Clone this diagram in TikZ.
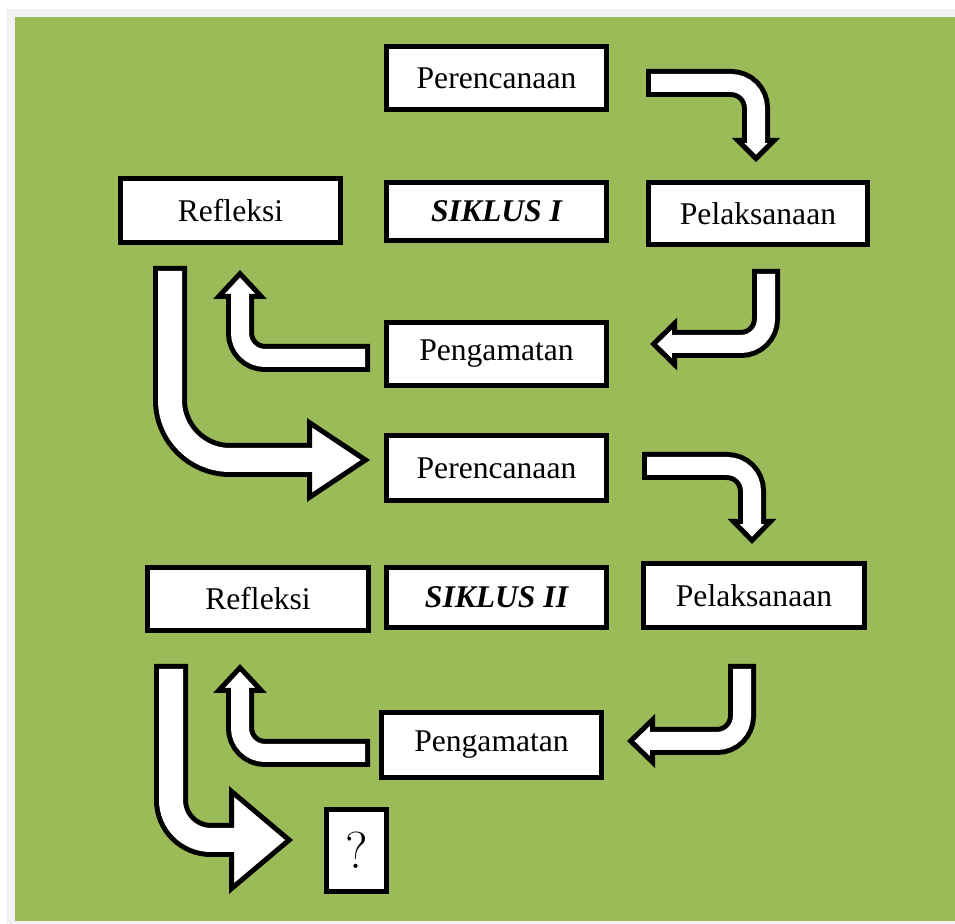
\documentclass[tikz,border=0pt]{standalone}
\usepackage{fontspec}
\newfontfamily\timesfont{Liberation Serif}
\definecolor{hijau}{HTML}{9BBB59}
\definecolor{abumuda}{HTML}{F2F2F2}
\tikzset{pics/kepala/.style 2 args={code={%
    \draw[black, line width=2.5pt, line join=miter, fill=white] (0,-#1) -- (#2,0) -- (0,#1) -- cycle;}}}

\begin{document}
\begin{tikzpicture}[x=0.5pt, y=-0.5pt]
    \tikzstyle{kotak}=[rectangle, draw, line width=2.5pt, fill=white, inner sep=0pt,
                       minimum width=110pt, minimum height=31.5pt,
                       font=\timesfont\fontsize{15.8}{19}\selectfont]
    \tikzstyle{batang}=[draw=white, line width=9pt, rounded corners=12.5pt,
                        preaction={draw=black, line width=14pt, shorten <=-2.5pt, shorten >=2pt}]
    \tikzstyle{batangbesar}=[draw=white, line width=12pt, rounded corners=30pt,
                             preaction={draw=black, line width=17pt, shorten <=-2.5pt, shorten >=2pt}]

    \useasboundingbox (0,0) rectangle (955,924);
    \fill[abumuda] (6,9) rectangle (955,924);
    \fill[hijau] (15,17) rectangle (955,921);

    % siklus I
    \node[kotak] (per1) at (496.5,78) {Perencanaan};
    \node[kotak, minimum height=29pt] (siklus1) at (496.5,211.5) {\bfseries\itshape SIKLUS I};
    \node[kotak, minimum height=32pt] (ref1) at (230.5,210.5) {Refleksi};
    \node[kotak, minimum width=109.5pt, minimum height=31pt] (pel1) at (758,213.5) {Pelaksanaan};
    \node[kotak] (peng1) at (496.5,354) {Pengamatan};

    % siklus II
    \node[kotak, minimum height=32.5pt] (per2) at (496.5,468) {Perencanaan};
    \node[kotak, minimum height=30pt] (siklus2) at (496.5,597.5) {\bfseries\itshape SIKLUS II};
    \node[kotak, minimum width=110.5pt] (ref2) at (258,599) {Refleksi};
    \node[kotak, minimum width=110.5pt, minimum height=32pt] (pel2) at (754,595.5) {Pelaksanaan};
    \node[kotak, minimum height=32.5pt] (peng2) at (491.5,745) {Pengamatan};
    \node[kotak, minimum width=30pt, minimum height=41pt, font=\fontsize{26}{30}\selectfont] (tanya) at (356.5,850.5) {?};

    % panah siklus I
    \pic[rotate=-90] at ([xshift=-1pt,yshift=19.75pt]pel1.north) {kepala={18}{18}};
    \draw[batang] ([xshift=21pt,yshift=-2.5pt]per1.east) -| ([xshift=-1pt,yshift=17.75pt]pel1.north);

    \pic[rotate=180] at ([xshift=32.75pt,yshift=5pt]peng1.east) {kepala={20.5}{20.9}};
    \draw[batang] ([xshift=4pt,yshift=-13.5pt]pel1.south) |- ([xshift=30.75pt,yshift=5pt]peng1.east);

    \pic[rotate=90] at ([xshift=4.75pt,yshift=-25.75pt]ref1.south) {kepala={21.2}{22.8}};
    \draw[batang] ([xshift=-9.5pt,yshift=-2pt]peng1.west) -| ([xshift=4.75pt,yshift=-23.75pt]ref1.south);

    \pic at ([xshift=-37.25pt,yshift=4pt]per2.west) {kepala={37.3}{56}};
    \draw[batangbesar] ([xshift=-30.25pt,yshift=-13pt]ref1.south) |- ([xshift=-35.25pt,yshift=4pt]per2.west);

    % panah siklus II
    \pic[rotate=-90] at ([xshift=-1pt,yshift=19.75pt]pel2.north) {kepala={18.5}{18.9}};
    \draw[batang] ([xshift=19pt,yshift=1pt]per2.east) -| ([xshift=-1pt,yshift=17.75pt]pel2.north);

    \pic[rotate=180] at ([xshift=24.25pt,yshift=2pt]peng2.east) {kepala={21.1}{21.9}};
    \draw[batang] ([xshift=-6pt,yshift=-19.5pt]pel2.south) |- ([xshift=22.25pt,yshift=2pt]peng2.east);

    \pic[rotate=90] at ([xshift=-9pt,yshift=-28.75pt]ref2.south) {kepala={21.2}{22.8}};
    \draw[batang] ([xshift=-7pt,yshift=-4pt]peng2.west) -| ([xshift=-9pt,yshift=-26.75pt]ref2.south);

    \pic at ([xshift=-46.25pt,yshift=5.25pt]tanya.west) {kepala={48.6}{57.6}};
    \draw[batangbesar, rounded corners=20pt] ([xshift=-43.5pt,yshift=-18pt]ref2.south) |- ([xshift=-44.25pt,yshift=5.25pt]tanya.west);

\end{tikzpicture}
\end{document}
